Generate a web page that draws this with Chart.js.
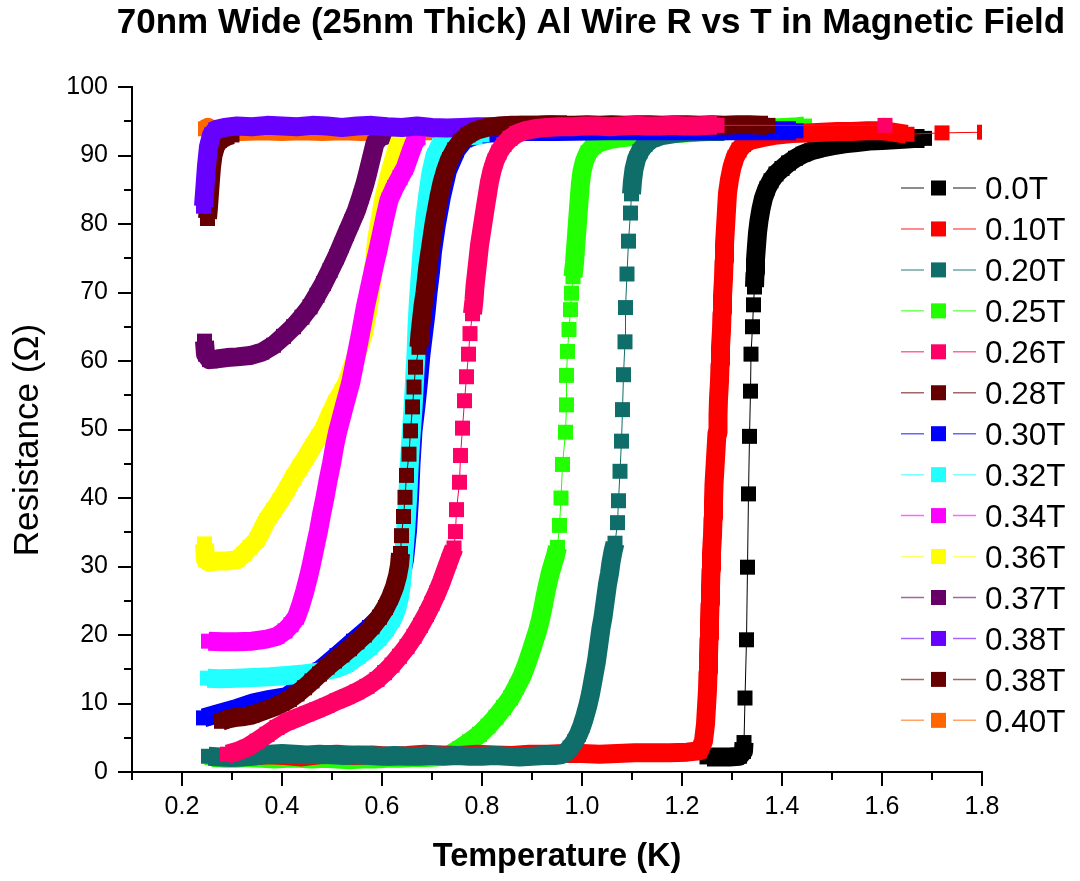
<!DOCTYPE html>
<html>
<head>
<meta charset="utf-8">
<script src="https://cdn.jsdelivr.net/npm/chart.js@4.4.1/dist/chart.umd.min.js"></script>
<style>
  html, body { margin: 0; padding: 0; background: #ffffff; }
  #wrap { width: 1080px; height: 881px; }
</style>
</head>
<body>
<div id="wrap"><canvas id="rt" width="1080" height="881"></canvas></div>
<script>
// Resistance vs temperature sweeps of a 70 nm wide, 25 nm thick Al wire.
// Every series is a list of [T (K), R (Ohm)] readings.

const chartTitle = '70nm Wide (25nm Thick) Al Wire R vs T in Magnetic Field';
const xTitle = 'Temperature (K)';
const yTitle = 'Resistance (\u03A9)';
const fieldLabels = ['0.0T', '0.10T', '0.20T', '0.25T', '0.26T', '0.28T', '0.30T',
  '0.32T', '0.34T', '0.36T', '0.37T', '0.38T', '0.38T', '0.40T'];

const r_000T = [[1.25,2.2],[1.27,2.2],[1.295,2.2],[1.315,2.3],[1.323,3.0],[1.324,4.3],
  [1.326,10.8],[1.329,19.3],[1.331,29.9],[1.333,40.6],[1.335,49.0],[1.337,55.6],[1.338,61.0],[1.341,65.0],[1.343,68.2],
  [1.345,70.8],[1.346,72.8],[1.347,74.8],[1.349,76.8],[1.351,78.7],[1.354,80.5],[1.358,82.2],[1.363,83.8],[1.37,85.2],
  [1.378,86.3],[1.388,87.3],[1.40,88.1],[1.413,88.9],[1.427,89.6],[1.442,90.2],[1.46,90.7],[1.48,91.1],[1.50,91.4],
  [1.525,91.7],[1.55,91.9],[1.575,92.1],[1.60,92.2],[1.625,92.3],[1.65,92.4],[1.67,92.5],[1.685,92.5]];

const r_010T = [[0.30,2.4],[0.335,2.3],[0.37,2.5],[0.405,2.4],[0.44,2.2],[0.475,2.5],[0.51,2.6],[0.545,2.4],[0.58,2.5],
  [0.615,2.3],[0.65,2.4],[0.685,2.6],[0.72,2.5],[0.755,2.4],[0.79,2.6],[0.825,2.5],[0.86,2.4],[0.895,2.6],[0.93,2.6],
  [0.965,2.7],[1.0,2.7],[1.035,2.6],[1.07,2.7],[1.105,2.8],[1.14,2.8],[1.175,2.8],[1.21,2.9],[1.235,3.1],[1.243,4.5],
  [1.247,7.0],[1.249,9.5],[1.251,12.0],[1.252,14.5],[1.253,17.0],[1.254,19.5],[1.255,22.0],[1.256,24.5],[1.257,27.0],
  [1.258,29.5],[1.259,32.0],[1.261,34.5],[1.262,37.0],[1.263,39.5],[1.264,42.0],[1.266,44.5],[1.268,47.0],[1.270,49.5],
  [1.272,52.0],[1.273,54.5],[1.275,57.0],[1.276,59.5],[1.277,62.0],[1.279,64.5],[1.280,67.0],[1.281,69.5],[1.283,72.0],
  [1.284,74.5],[1.285,77.0],[1.287,79.5],[1.289,82.0],[1.291,84.5],[1.295,86.5],[1.300,88.3],[1.306,89.7],[1.314,90.8],
  [1.323,91.6],[1.336,92.2],[1.36,92.6],[1.39,93.0],[1.42,93.2],[1.45,93.3],[1.48,93.4],[1.51,93.5],[1.54,93.5],
  [1.57,93.6],[1.60,93.6],[1.615,93.5],[1.65,93.1],[1.72,93.3],[1.805,93.4]];

const r_020T = [[0.253,2.3],[0.275,2.2],[0.30,2.1],[0.325,2.2],[0.35,2.4],[0.375,2.6],[0.40,2.7],[0.425,2.6],[0.45,2.5],
  [0.475,2.6],[0.50,2.5],[0.525,2.4],[0.55,2.5],[0.575,2.4],[0.60,2.3],[0.625,2.4],[0.65,2.3],[0.675,2.3],[0.70,2.4],
  [0.725,2.3],[0.75,2.4],[0.775,2.3],[0.80,2.3],[0.825,2.4],[0.85,2.3],[0.875,2.2],[0.90,2.3],[0.925,2.4],[0.945,2.4],
  [0.958,2.5],[0.966,2.8],[0.976,3.5],[0.985,4.4],[0.993,5.5],[1.000,6.8],[1.006,8.2],[1.012,9.8],[1.017,11.4],
  [1.021,13.0],[1.025,14.6],[1.029,16.2],[1.032,17.8],[1.035,19.4],[1.038,21.0],[1.042,22.6],[1.045,24.2],[1.048,25.8],
  [1.051,27.4],[1.055,29.0],[1.058,30.6],[1.062,32.2],[1.066,33.4],
  [1.071,36.4],[1.073,39.6],[1.076,43.9],[1.079,48.3],[1.081,52.9],[1.083,58.0],[1.086,62.8],[1.087,67.8],[1.090,72.7],
  [1.093,77.5],[1.097,81.6],
  [1.099,84.4],[1.101,86.3],[1.104,88.0],[1.109,89.5],[1.116,90.6],[1.126,91.6],[1.14,92.4],[1.16,92.9],[1.185,93.2],
  [1.21,93.4],[1.235,93.5],[1.26,93.5],[1.285,93.5]];

const r_025T = [[0.26,2.1],[0.285,2.0],[0.31,2.0],[0.335,2.1],[0.36,2.0],[0.385,1.9],[0.41,2.0],[0.435,2.0],[0.46,1.9],
  [0.485,2.0],[0.51,1.9],[0.535,1.8],[0.56,1.9],[0.585,1.9],[0.61,2.0],[0.635,2.0],[0.66,2.1],[0.685,2.1],[0.71,2.2],
  [0.735,2.5],[0.755,3.4],[0.775,4.4],[0.795,5.5],[0.812,6.7],[0.828,8.0],[0.843,9.4],[0.857,10.8],[0.869,12.4],
  [0.880,14.0],[0.889,15.7],[0.897,17.4],[0.904,19.0],[0.911,20.6],[0.917,22.3],[0.922,24.0],[0.926,25.6],[0.931,27.3],
  [0.936,28.9],[0.942,30.4],[0.947,31.6],[0.951,32.8],
  [0.955,36.0],[0.958,40.0],[0.961,44.9],[0.967,49.6],[0.969,53.6],[0.969,57.9],[0.971,61.4],[0.974,64.6],[0.977,67.5],
  [0.979,69.9],
  [0.982,72.3],[0.985,74.3],[0.987,76.3],[0.989,78.3],[0.991,80.3],[0.993,82.3],[0.995,84.2],[0.997,86.0],[1.000,87.7],
  [1.005,89.2],[1.012,90.4],[1.022,91.3],[1.035,91.9],[1.055,92.3],[1.08,92.6],[1.105,92.8],[1.13,93.0],[1.155,93.1],
  [1.18,93.2],[1.205,93.3],[1.23,93.4],[1.255,93.5],[1.28,93.6],[1.305,93.7],[1.33,93.8],[1.355,93.9],[1.38,94.0],
  [1.405,94.1],[1.43,94.2],[1.445,94.3]];

const r_026T = [[0.291,2.6],[0.31,3.0],[0.33,3.6],[0.35,4.5],[0.37,5.5],[0.39,6.5],[0.41,7.3],[0.43,7.9],[0.45,8.5],
  [0.47,9.1],[0.49,9.7],[0.51,10.4],[0.53,11.0],[0.55,11.7],[0.57,12.5],[0.59,13.5],[0.605,14.5],[0.62,15.6],[0.635,16.9],
  [0.65,18.3],[0.664,19.8],[0.677,21.4],[0.689,23.0],[0.70,24.6],[0.71,26.2],[0.719,27.8],[0.727,29.4],[0.734,30.8],
  [0.739,31.8],[0.744,32.7],
  [0.747,35.1],[0.749,38.3],[0.755,42.3],[0.757,46.2],[0.761,50.2],[0.765,54.2],[0.769,57.7],[0.773,61.0],[0.776,64.0],
  [0.781,66.9],[0.784,68.9],[0.786,70.9],[0.789,72.9],[0.792,74.9],[0.795,76.9],[0.799,78.8],[0.803,80.7],[0.807,82.6],
  [0.811,84.4],[0.815,86.2],[0.82,87.8],[0.826,89.2],[0.834,90.5],[0.844,91.6],[0.856,92.5],[0.87,93.2],[0.885,93.6],
  [0.905,93.9],[0.93,94.1],[0.955,94.2],[0.98,94.2],[1.005,94.3],[1.03,94.3],[1.055,94.2],[1.08,94.3],[1.105,94.4],
  [1.13,94.3],[1.155,94.3],[1.18,94.4],[1.205,94.3],[1.23,94.3],[1.255,94.4],[1.27,94.4],
  [1.606,94.4]];

const r_028T = [[0.279,7.4],[0.295,7.8],[0.31,8.0],[0.325,8.1],[0.34,8.3],[0.355,8.7],[0.37,9.1],[0.385,9.5],[0.40,10.0],
  [0.415,10.6],[0.43,11.4],[0.445,12.3],[0.46,13.3],[0.475,14.3],[0.49,15.3],[0.505,16.2],[0.52,17.1],[0.535,18.0],
  [0.55,19.0],[0.565,20.0],[0.58,21.2],[0.595,22.6],[0.607,24.0],[0.617,25.5],[0.625,27.0],[0.631,28.6],[0.635,30.2],
  [0.637,31.9],
  [0.639,34.5],[0.643,37.3],[0.646,40.1],[0.649,43.3],[0.654,46.4],[0.657,49.8],[0.661,53.3],[0.664,56.2],[0.667,59.1],
  [0.674,62.0],
  [0.676,64.0],[0.679,66.0],[0.682,68.0],[0.686,70.0],[0.689,72.0],[0.692,74.0],[0.696,76.0],[0.70,78.0],[0.704,80.0],
  [0.709,82.0],[0.714,84.0],[0.72,86.0],[0.727,87.8],[0.735,89.4],[0.745,90.8],[0.757,92.0],[0.772,93.0],[0.79,93.7],
  [0.81,94.1],[0.835,94.3],[0.86,94.4],[0.885,94.4],[0.91,94.4],[0.935,94.5],[0.96,94.4],[0.985,94.4],[1.01,94.5],
  [1.035,94.4],[1.06,94.5],[1.085,94.4],[1.11,94.5],[1.135,94.5],[1.16,94.4],[1.185,94.5],[1.21,94.5],[1.235,94.4],
  [1.26,94.5],[1.285,94.4],[1.31,94.5],[1.335,94.5],[1.36,94.4],[1.372,94.4]];

const r_030T = [[0.243,7.9],[0.276,8.6],[0.31,9.3],[0.343,10.1],[0.376,10.6],[0.409,11.0],[0.445,12.9],[0.476,14.9],
  [0.51,17.0],[0.543,19.1],[0.575,21.1],[0.60,22.9],[0.62,24.9],[0.635,27.5],[0.645,31.0],[0.651,35.2],[0.655,40.0],
  [0.658,45.0],[0.662,49.8],[0.668,53.5],[0.673,57.0],[0.678,61.0],[0.683,64.0],[0.688,67.0],[0.692,70.0],[0.697,73.0],
  [0.701,76.0],[0.709,80.0],[0.719,84.0],[0.731,87.8],[0.749,90.8],[0.765,92.3],[0.79,93.0],[0.82,93.3],[0.87,93.5],
  [0.95,93.5],[1.05,93.6],[1.15,93.6],[1.25,93.6],[1.35,93.6],[1.40,93.6],[1.428,93.6]];

const r_032T = [[0.251,13.7],[0.275,13.6],[0.309,13.7],[0.343,13.8],[0.376,13.9],[0.41,14.1],[0.443,14.3],[0.476,14.6],
  [0.509,15.1],[0.529,15.7],[0.553,16.9],[0.576,18.2],[0.594,19.5],[0.609,20.9],[0.621,22.3],[0.629,23.7],[0.635,25.5],
  [0.639,27.5],[0.643,31.0],[0.648,36.0],[0.652,41.0],[0.655,45.5],[0.658,49.0],[0.662,53.0],[0.665,57.0],[0.668,61.0],
  [0.670,65.0],[0.673,69.0],[0.677,73.0],[0.681,77.0],[0.686,81.0],[0.692,84.5],[0.698,87.5],[0.706,90.0],[0.716,91.5],
  [0.73,92.3],[0.75,92.7],[0.78,92.9],[0.80,93.0]];

const r_034T = [[0.253,19.1],[0.28,19.0],[0.309,19.0],[0.34,19.1],[0.369,19.4],[0.39,19.8],[0.406,20.6],[0.418,21.5],
  [0.429,22.6],[0.438,24.5],[0.446,26.5],[0.453,28.5],[0.459,30.4],[0.466,32.8],[0.473,35.2],[0.479,37.6],[0.486,40.1],
  [0.492,42.5],[0.499,45.0],[0.505,47.5],[0.511,49.6],[0.525,53.5],[0.537,56.7],[0.547,60.3],[0.557,64.0],[0.567,68.0],
  [0.576,71.0],[0.584,73.7],[0.592,76.2],[0.599,78.6],[0.606,81.0],[0.614,83.5],[0.625,85.3],[0.636,86.8],[0.647,88.3],
  [0.656,90.2],[0.664,91.8],[0.672,92.6]];

const r_036T = [[0.245,33.3],[0.247,31.0],[0.255,30.6],[0.27,30.8],[0.29,30.8],[0.31,31.0],[0.323,31.8],[0.336,32.8],
  [0.349,33.8],[0.359,35.2],[0.369,36.7],[0.383,38.2],[0.396,39.6],[0.41,41.3],[0.423,43.0],[0.436,44.5],[0.449,46.0],
  [0.461,47.5],[0.473,48.9],[0.483,50.0],[0.495,52.0],[0.508,54.0],[0.52,55.5],[0.529,56.7],[0.547,60.5],[0.563,64.0],
  [0.572,67.5],[0.579,71.3],[0.585,74.5],[0.589,77.6],[0.596,80.5],[0.603,83.5],[0.611,86.0],[0.619,88.3],[0.628,90.5],
  [0.636,92.2],[0.645,93.0]];

const r_037T = [[0.245,62.9],[0.247,61.0],[0.255,60.2],[0.27,60.3],[0.29,60.5],[0.31,60.6],[0.336,60.8],[0.36,61.3],
  [0.383,62.3],[0.403,63.6],[0.423,65.0],[0.44,66.4],[0.456,67.9],[0.47,69.6],[0.483,71.3],[0.496,73.2],[0.509,75.2],
  [0.519,76.9],[0.529,78.6],[0.539,80.3],[0.549,82.0],[0.558,84.0],[0.566,85.9],[0.571,87.3],[0.576,88.8],[0.581,90.3],
  [0.586,91.8],[0.596,92.7],[0.61,93.0]];

const r_038T = [[0.243,82.6],[0.246,85.5],[0.249,88.5],[0.253,91.3],[0.259,93.0],[0.268,93.8],[0.285,94.1],[0.31,94.3],
  [0.34,94.2],[0.37,94.4],[0.40,94.3],[0.43,94.2],[0.46,94.4],[0.49,94.3],[0.52,94.1],[0.55,94.3],[0.58,94.4],[0.61,94.2],
  [0.64,94.1],[0.67,94.3],[0.70,94.1],[0.73,94.0],[0.76,94.1],[0.79,94.2],[0.82,94.2],[0.85,94.3],[0.88,94.4],[0.91,94.4],
  [0.94,94.5],[0.97,94.5]];

const r_038Tb = [[0.251,80.8],[0.253,82.5],[0.255,84.5],[0.257,86.5],[0.259,88.3],[0.262,90.0],[0.267,91.3],[0.275,92.2],
  [0.29,92.8],[0.30,93.0]];

const r_040T = [[0.247,93.9],[0.252,94.1],[0.265,93.6],[0.29,93.5],[0.32,93.5],[0.36,93.6],[0.40,93.5],[0.44,93.6],
  [0.48,93.5],[0.52,93.6],[0.56,93.5],[0.60,93.6],[0.64,93.5],[0.68,93.6],[0.70,93.6]];

const xTickStep = 0.1;   // minor step, labels every 0.2 K
const yTickStep = 5;     // minor step, labels every 10 Ohm

// ---- styling ----
const series = [r_000T, r_010T, r_020T, r_025T, r_026T, r_028T, r_030T, r_032T, r_034T, r_036T, r_037T, r_038T, r_038Tb, r_040T];
const colors = ['#000000', '#FF0000', '#106E6A', '#22FF00', '#FF0066', '#660000', '#0000FF',
  '#22FFFF', '#FF00FF', '#FFFF00', '#660066', '#6600FF', '#660000', '#FF6600'];
// stacking rank: 0 is painted last (on top)
const stackRank = [13, 7, 6, 8, 0, 1, 5, 4, 9, 10, 11, 2, 3, 12];
// pixel spacing above which two neighbouring readings are shown as separate markers
const markerGap = [17, 22, 16, 15, 15.5, 17, Infinity, Infinity, Infinity, Infinity, Infinity, Infinity, Infinity, Infinity];

const BAND = 19;
const FONT = '"Liberation Sans", Arial, Helvetica, sans-serif';

function rgba(hex, a) {
  const n = parseInt(hex.slice(1), 16);
  return `rgba(${(n >> 16) & 255},${(n >> 8) & 255},${n & 255},${a})`;
}

const datasets = series.map((pts, i) => ({
  label: fieldLabels[i],
  data: pts.map(([x, y]) => ({ x, y })),
  borderColor: colors[i],
  backgroundColor: colors[i],
  pointBackgroundColor: colors[i],
  pointBorderWidth: 0,
  pointStyle: 'rect',
  pointRadius: 10.6,
  pointHoverRadius: 10.6,
  borderWidth: 1,
  borderJoinStyle: 'round',
  tension: 0,
  fill: false,
  order: stackRank[i],
  segment: {
    borderWidth: ctx => (Math.hypot(ctx.p1.x - ctx.p0.x, ctx.p1.y - ctx.p0.y) > markerGap[i] ? 1 : BAND)
  }
}));

// axis tick marks pointing outward: long at labelled values, short in between
const outerTicks = {
  id: 'outerTicks',
  afterDraw(chart) {
    const { ctx, scales: { x, y } } = chart;
    ctx.save();
    ctx.strokeStyle = '#000';
    ctx.lineWidth = 2;
    ctx.beginPath();
    x.ticks.forEach(t => {
      const px = Math.round(x.getPixelForValue(t.value));
      const major = Math.round(t.value * 10) % 2 === 0;
      ctx.moveTo(px, x.top);
      ctx.lineTo(px, x.top + (major ? 14 : 8));
    });
    y.ticks.forEach(t => {
      const py = Math.round(y.getPixelForValue(t.value));
      const major = Math.round(t.value) % 10 === 0;
      ctx.moveTo(y.right, py);
      ctx.lineTo(y.right - (major ? 14 : 8), py);
    });
    ctx.stroke();
    ctx.restore();
  }
};

// heading, vertical axis title and field legend
const annotations = {
  id: 'annotations',
  afterDraw(chart) {
    const { ctx } = chart;
    ctx.save();
    ctx.fillStyle = '#000';
    ctx.font = `bold 35px ${FONT}`;
    ctx.textAlign = 'center';
    ctx.textBaseline = 'alphabetic';
    ctx.fillText(chartTitle, 591, 33);

    ctx.save();
    ctx.translate(28, 440);
    ctx.rotate(-Math.PI / 2);
    ctx.font = `35px ${FONT}`;
    ctx.textBaseline = 'middle';
    ctx.fillText(yTitle, 0, 0);
    ctx.restore();

    const fs = 31.5;
    ctx.font = `${fs}px ${FONT}`;
    ctx.textAlign = 'left';
    fieldLabels.forEach((name, i) => {
      const yc = 188 + 40.95 * i;
      ctx.strokeStyle = rgba(colors[i], 0.6);
      ctx.lineWidth = 1.5;
      ctx.beginPath();
      ctx.moveTo(901, yc); ctx.lineTo(924, yc);
      ctx.moveTo(953, yc); ctx.lineTo(976, yc);
      ctx.stroke();
      ctx.fillStyle = colors[i];
      ctx.fillRect(931, yc - 7.5, 15, 15);
      ctx.fillStyle = '#000';
      ctx.fillText(name, 985, yc + 0.358 * fs);
    });
    ctx.restore();
  }
};

new Chart(document.getElementById('rt'), {
  type: 'line',
  data: { datasets },
  options: {
    responsive: false,
    maintainAspectRatio: false,
    devicePixelRatio: 1,
    animation: false,
    events: [],
    layout: { padding: { left: 0, right: 98, top: 87, bottom: 0 } },
    plugins: { legend: { display: false }, title: { display: false }, tooltip: { enabled: false } },
    scales: {
      x: {
        type: 'linear',
        min: 0.1,
        max: 1.8,
        afterFit: s => { s.height = 109; },
        grid: { display: false, drawTicks: false },
        border: { display: true, color: '#000', width: 2 },
        ticks: {
          stepSize: xTickStep,
          maxTicksLimit: 100,
          autoSkip: false,
          maxRotation: 0,
          padding: 20,
          color: '#000',
          font: { family: FONT, size: 25 },
          callback: v => (Math.round(v * 10) % 2 === 0 ? (Math.round(v * 10) / 10).toFixed(1) : '')
        },
        title: {
          display: true,
          text: xTitle,
          color: '#000',
          font: { family: FONT, size: 32.5, weight: 'bold' },
          padding: { top: 0, bottom: 4 }
        }
      },
      y: {
        type: 'linear',
        min: 0,
        max: 100,
        afterFit: s => { s.width = 132; },
        grid: { display: false, drawTicks: false },
        border: { display: true, color: '#000', width: 2 },
        ticks: {
          stepSize: yTickStep,
          maxTicksLimit: 100,
          autoSkip: false,
          padding: 24,
          color: '#000',
          font: { family: FONT, size: 25 },
          callback: v => (Math.round(v) % 10 === 0 ? String(Math.round(v)) : '')
        },
        title: { display: false }
      }
    }
  },
  plugins: [outerTicks, annotations]
});
</script>
</body>
</html>
